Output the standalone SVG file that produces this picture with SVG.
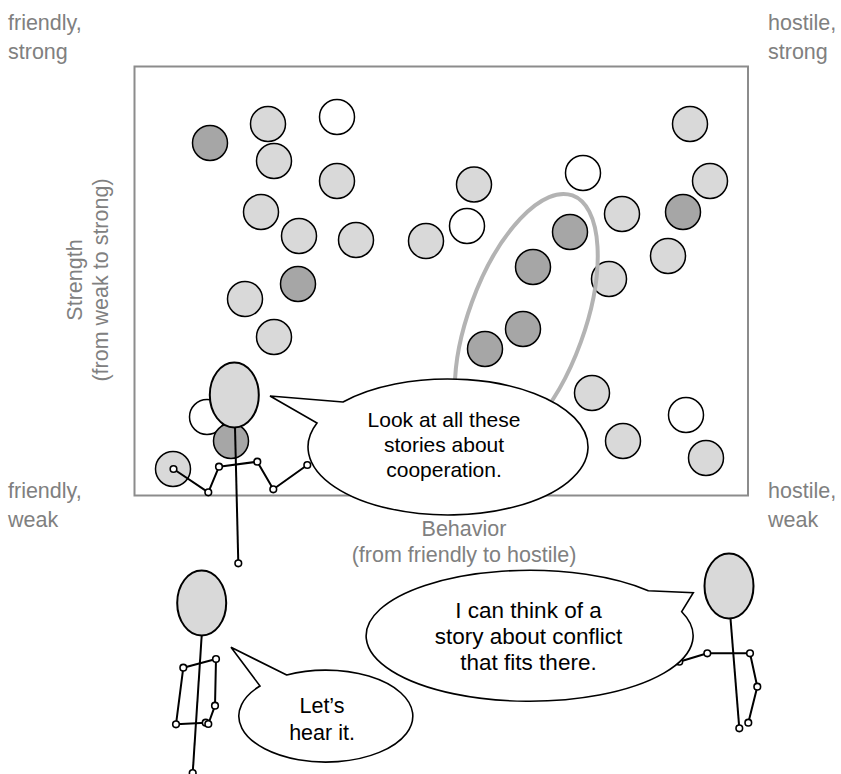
<svg xmlns="http://www.w3.org/2000/svg" width="841" height="774" viewBox="0 0 841 774">
  <style>
    .lbl { font-family: "Liberation Sans", Arial, sans-serif; font-size: 21.5px; fill: #808080; }
    .say { font-family: "Liberation Sans", Arial, sans-serif; fill: #000; text-anchor: middle; }
    .pt { stroke: #000; stroke-width: 1.5; }
    .lt { fill: #d9d9d9; }
    .dk { fill: #a6a6a6; }
    .wh { fill: #fff; }
    .head { fill: #d9d9d9; stroke: #000; stroke-width: 2; }
    .limb { fill: none; stroke: #000; stroke-width: 2; stroke-linejoin: round; }
    .joint { fill: #fff; stroke: #000; stroke-width: 1.6; }
    .bubble { fill: #fff; stroke: #000; stroke-width: 1.6; stroke-linejoin: miter; }
  </style>

  <!-- corner and axis labels -->
  <g id="labels">
    <text class="lbl" x="8" y="30">friendly,</text>
    <text class="lbl" x="8" y="59">strong</text>
    <text class="lbl" x="768" y="30">hostile,</text>
    <text class="lbl" x="768" y="59">strong</text>
    <text class="lbl" x="8" y="498">friendly,</text>
    <text class="lbl" x="8" y="527">weak</text>
    <text class="lbl" x="768" y="498">hostile,</text>
    <text class="lbl" x="768" y="527">weak</text>
    <text class="lbl" x="464" y="536" text-anchor="middle">Behavior</text>
    <text class="lbl" x="464" y="562" font-size="22.5" text-anchor="middle">(from friendly to hostile)</text>
    <text class="lbl" transform="translate(82,280) rotate(-90)" text-anchor="middle">Strength</text>
    <text class="lbl" transform="translate(108,280) rotate(-90)" text-anchor="middle">(from weak to strong)</text>
  </g>

  <!-- plot frame -->
  <rect id="frame" x="134.5" y="66.5" width="613.5" height="429" fill="none" stroke="#8c8c8c" stroke-width="2"/>

  <!-- stories plotted by behavior and strength -->
  <g id="stories">
    <circle class="pt dk" cx="210" cy="143" r="17.5"/>
    <circle class="pt lt" cx="268" cy="124" r="17.5"/>
    <circle class="pt wh" cx="337" cy="117" r="17.5"/>
    <circle class="pt lt" cx="274" cy="161" r="17.5"/>
    <circle class="pt lt" cx="337" cy="181" r="17.5"/>
    <circle class="pt lt" cx="474" cy="184.5" r="17.5"/>
    <circle class="pt wh" cx="467" cy="226" r="17.5"/>
    <circle class="pt lt" cx="261" cy="212" r="17.5"/>
    <circle class="pt lt" cx="299" cy="236" r="17.5"/>
    <circle class="pt lt" cx="356" cy="240" r="17.5"/>
    <circle class="pt lt" cx="426" cy="241" r="17.5"/>
    <circle class="pt dk" cx="298" cy="284" r="17.5"/>
    <circle class="pt lt" cx="245" cy="299" r="17.5"/>
    <circle class="pt lt" cx="274" cy="337" r="17.5"/>
    <circle class="pt lt" cx="690" cy="124" r="17.5"/>
    <circle class="pt wh" cx="583" cy="173" r="17.5"/>
    <circle class="pt lt" cx="710" cy="181" r="17.5"/>
    <circle class="pt lt" cx="622" cy="214" r="17.5"/>
    <circle class="pt dk" cx="683" cy="212" r="17.5"/>
    <circle class="pt dk" cx="570" cy="232" r="17.5"/>
    <circle class="pt lt" cx="668" cy="256" r="17.5"/>
    <circle class="pt dk" cx="533" cy="267" r="17.5"/>
    <circle class="pt lt" cx="609" cy="279" r="17.5"/>
    <circle class="pt dk" cx="523" cy="329" r="17.5"/>
    <circle class="pt dk" cx="485" cy="349" r="17.5"/>
    <circle class="pt lt" cx="592" cy="393" r="17.5"/>
    <circle class="pt wh" cx="686" cy="415" r="17.5"/>
    <circle class="pt lt" cx="623" cy="441" r="17.5"/>
    <circle class="pt lt" cx="706" cy="458" r="17.5"/>
    <circle class="pt wh" cx="207" cy="417" r="17.5"/>
    <circle class="pt dk" cx="231" cy="441" r="17.5"/>
    <circle class="pt lt" cx="173" cy="469" r="17.5"/>
  </g>

  <!-- highlighted cluster -->
  <ellipse id="cluster" cx="526.3" cy="322.3" rx="58" ry="135" transform="rotate(20 526.3 322.3)" fill="none" stroke="#b3b3b3" stroke-width="4"/>

  <!-- first speaker -->
  <g id="figure-left-top">
    <ellipse class="head" cx="234.3" cy="395" rx="24.5" ry="32.5"/>
    <line class="limb" x1="235" y1="427.5" x2="238.3" y2="563.3"/>
    <polyline class="limb" points="173.5,469 208.3,492.3 219,466.7 257.3,461.7 273.3,489.3 307.3,465"/>
    <circle class="joint" cx="173.5" cy="469" r="3.3"/>
    <circle class="joint" cx="208.3" cy="492.3" r="3.3"/>
    <circle class="joint" cx="219" cy="466.7" r="3.3"/>
    <circle class="joint" cx="257.3" cy="461.7" r="3.3"/>
    <circle class="joint" cx="273.3" cy="489.3" r="3.3"/>
    <circle class="joint" cx="307.3" cy="465" r="3.3"/>
    <circle class="joint" cx="238.3" cy="563.3" r="3.3"/>
  </g>

  <g id="bubble-cooperation">
    <path class="bubble" d="M 343 402 L 270 396 L 317 423 A 140 68 0 1 0 343 402 Z"/>
    <text class="say" font-size="21"><tspan x="444" y="427">Look at all these</tspan><tspan x="444" y="452">stories about</tspan><tspan x="444" y="477">cooperation.</tspan></text>
  </g>

  <!-- second speaker -->
  <g id="figure-left-bottom">
    <ellipse class="head" cx="201.7" cy="603" rx="24.5" ry="32.5"/>
    <line class="limb" x1="201.7" y1="635.5" x2="192.7" y2="773"/>
    <polyline class="limb" points="205.7,722.7 176,724.3 183.3,667.7 216,659 215,705.7 208.3,724"/>
    <circle class="joint" cx="176" cy="724.3" r="3.3"/>
    <circle class="joint" cx="183.3" cy="667.7" r="3.3"/>
    <circle class="joint" cx="216" cy="659" r="3.3"/>
    <circle class="joint" cx="215" cy="705.7" r="3.3"/>
    <circle class="joint" cx="205.7" cy="722.7" r="3.3"/>
    <circle class="joint" cx="208.3" cy="724" r="3.3"/>
    <circle class="joint" cx="192.7" cy="773" r="3.3"/>
  </g>

  <g id="bubble-hear">
    <path class="bubble" d="M 286.7 675 L 231 647.3 L 260 686 A 87 46 0 1 0 286.7 675 Z"/>
    <text class="say" font-size="21.5"><tspan x="322" y="713">Let’s</tspan><tspan x="322" y="740">hear it.</tspan></text>
  </g>

  <!-- third speaker -->
  <g id="figure-right">
    <ellipse class="head" cx="729" cy="586" rx="24.5" ry="32.5"/>
    <line class="limb" x1="730.5" y1="618.5" x2="739.3" y2="728.3"/>
    <polyline class="limb" points="679.3,661.7 707.3,653.3 750,653.3 757.3,686.7 748.3,722.7"/>
    <circle class="joint" cx="679.3" cy="661.7" r="3.3"/>
    <circle class="joint" cx="707.3" cy="653.3" r="3.3"/>
    <circle class="joint" cx="750" cy="653.3" r="3.3"/>
    <circle class="joint" cx="757.3" cy="686.7" r="3.3"/>
    <circle class="joint" cx="748.3" cy="722.7" r="3.3"/>
    <circle class="joint" cx="739.3" cy="728.3" r="3.3"/>
  </g>

  <g id="bubble-conflict">
    <path class="bubble" d="M 648.3 590.7 L 693.3 592.7 L 681.7 611.7 A 163.5 65.5 0 1 1 648.3 590.7 Z"/>
    <text class="say" font-size="22.5"><tspan x="528.5" y="618">I can think of a</tspan><tspan x="528.5" y="644">story about conflict</tspan><tspan x="528.5" y="670">that fits there.</tspan></text>
  </g>
</svg>
